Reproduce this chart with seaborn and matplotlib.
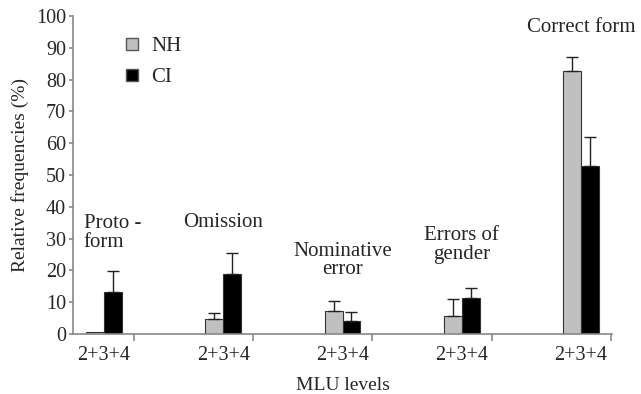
import matplotlib
matplotlib.use('Agg')
from matplotlib import pyplot as plt
import pandas as pd
import seaborn as sns

# values
categories = ['Proto-form', 'Omission', 'Nominative error', 'Errors of gender', 'Correct form']
tick_labels = ['2+3+4'] * 5
nh_mean = [0.7, 4.7, 7.3, 5.7, 82.7]
nh_err = [0.0, 2.0, 3.2, 5.2, 4.5]
ci_mean = [13.3, 18.9, 4.2, 11.2, 52.9]
ci_err = [6.5, 6.5, 2.8, 3.4, 8.9]
annotations = ['Proto -\nform', 'Omission', 'Nominative\nerror', 'Errors of\ngender', 'Correct form']
annot_y = [31.8, 35.0, 23.2, 28.0, 96.5]

sns.set_style('ticks')
plt.rcParams['font.family'] = ['Liberation Serif', 'DejaVu Serif']

df = pd.DataFrame({
    'category': categories * 2,
    'group': ['NH'] * 5 + ['CI'] * 5,
    'value': nh_mean + ci_mean,
})

fig = plt.figure(figsize=(6.41, 3.94), dpi=100)
ax = fig.add_axes([0.1139, 0.1523, 0.8409, 0.8071])

sns.barplot(data=df, x='category', y='value', hue='group', order=categories,
            hue_order=['NH', 'CI'], palette={'NH': '#c0c0c0', 'CI': '#000000'},
            width=0.3, gap=0, errorbar=None, edgecolor='#333333', linewidth=0.8,
            ax=ax, zorder=2, legend=False)

# one-sided error bars on top of every bar
errs = nh_err + ci_err
for patch, err in zip(ax.patches, errs):
    x = patch.get_x() + patch.get_width() / 2
    top = patch.get_height()
    if err > 0:
        ax.errorbar(x, top, yerr=[[0], [err]], fmt='none', ecolor='#222222',
                    elinewidth=1.0, capsize=4, capthick=1.0, zorder=3)

for i, (txt, yy) in enumerate(zip(annotations, annot_y)):
    xx = i + 0.07 if i == 0 else i
    ax.text(xx, yy, txt, ha='center', va='center', fontsize=15,
            multialignment='left' if i == 0 else 'center', linespacing=0.95)

ax.set_yticks(range(0, 101, 10))
ax.set_xticks(range(5))
ax.set_xticklabels(tick_labels)
ax.set_xticks([k + 0.25 for k in range(-1, 5)], minor=True)
ax.set_xlim(-0.26, 4.26)
ax.set_ylim(0, 100)
ax.tick_params(axis='x', which='major', length=0, labelsize=14.5, pad=9)
ax.tick_params(axis='x', which='minor', length=5, width=1.2, direction='out',
               color='#888888', bottom=True)
ax.tick_params(axis='y', length=3, width=1.2, color='#888888', labelsize=14.5, pad=2)
ax.set_xlabel('MLU levels', fontsize=14, labelpad=8)
ax.set_ylabel('Relative frequencies (%)', fontsize=14, labelpad=5)
for side in ['top', 'right']:
    ax.spines[side].set_visible(False)
for side in ['left', 'bottom']:
    ax.spines[side].set_color('#888888')
    ax.spines[side].set_linewidth(1.2)

handles = [plt.Line2D([0], [0], marker='s', linestyle='none', markersize=8,
                      markerfacecolor=c, markeredgecolor='#555555')
           for c in ['#c0c0c0', '#000000']]
ax.legend(handles=handles, labels=['NH', 'CI'], loc='upper left',
          bbox_to_anchor=(0.06, 0.995), frameon=False, fontsize=15,
          handlelength=0.8, handletextpad=0.5, labelspacing=0.55)

fig.savefig('out.png', dpi=100)
